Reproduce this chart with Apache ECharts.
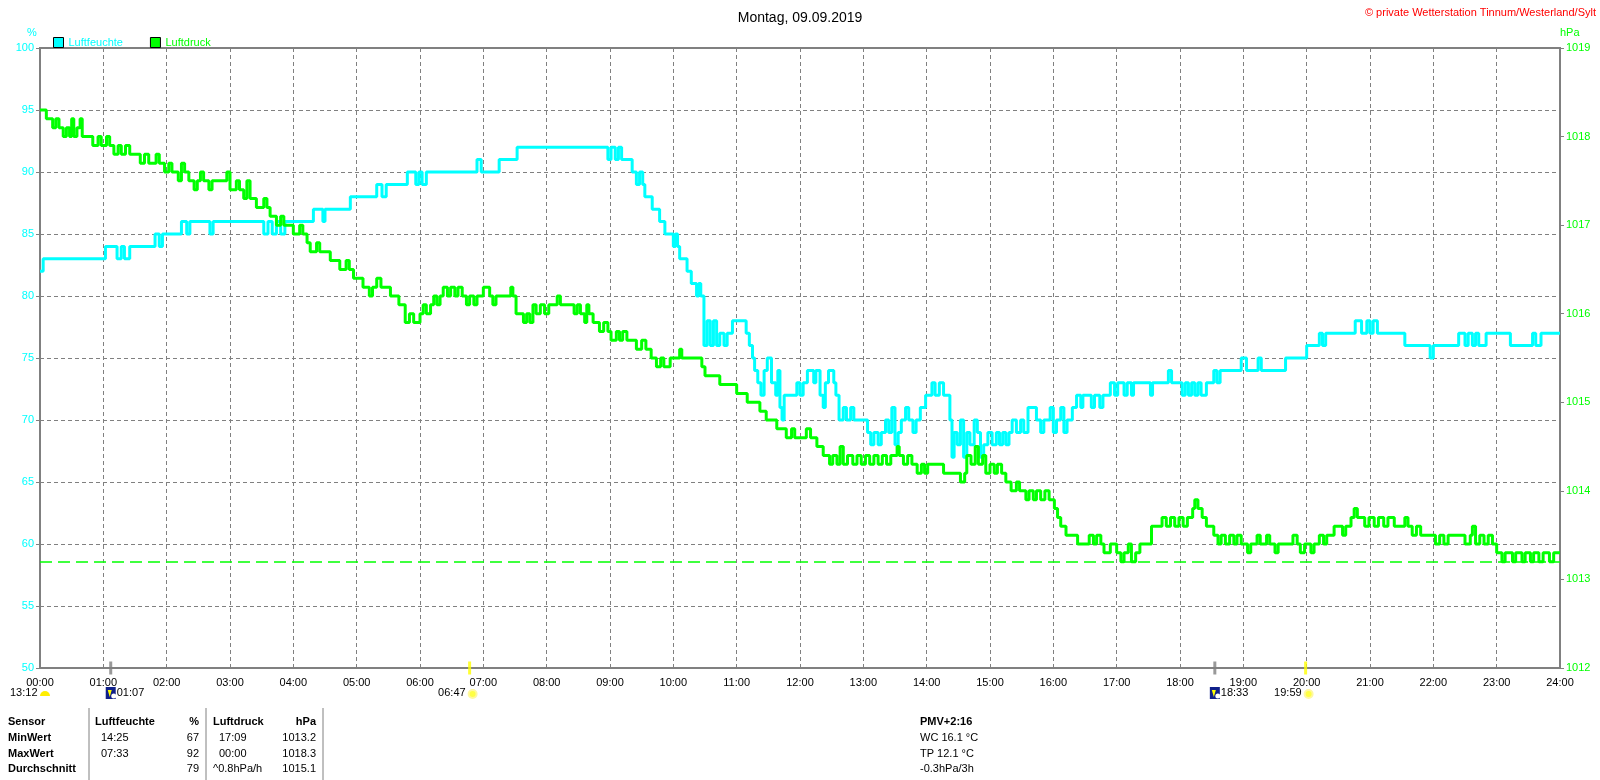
<!DOCTYPE html>
<html>
<head>
<meta charset="utf-8">
<title>Montag, 09.09.2019</title>
<script src="https://cdn.jsdelivr.net/npm/echarts/dist/echarts.min.js"></script>
<style>
  html, body { margin: 0; padding: 0; background: #fff; }
  #chart { width: 1600px; height: 780px; }
</style>
</head>
<body>
<div id="chart"></div>
<script>
// Luftfeuchte: minutes since midnight where the value changes, and the new value (%)
const humMin = [0, 3, 62, 73, 77, 80, 85, 109, 113, 116, 134, 139, 142, 161, 164, 212, 216, 220, 224, 228, 232, 259, 268, 270, 294, 319, 324, 328,
  348, 356, 359, 362, 366, 414, 418, 435, 452, 538, 541, 545, 548, 551, 561, 565, 568, 571, 573, 580, 587, 592, 600, 602, 604, 606, 613, 617,
  622, 624, 626, 629, 632, 635, 638, 641, 644, 648, 651, 656, 669, 672, 675, 677, 680, 683, 686, 689, 693, 697, 699, 701, 703, 705, 717, 720,
  723, 727, 733, 735, 739, 742, 744, 747, 752, 754, 757, 761, 764, 768, 771, 784, 787, 790, 794, 797, 801, 804, 807, 810, 813, 816, 820, 823,
  827, 830, 834, 839, 845, 848, 852, 856, 862, 864, 866, 869, 872, 875, 878, 881, 885, 888, 891, 894, 898, 902, 906, 909, 912, 915, 918, 921,
  925, 929, 932, 936, 944, 948, 951, 957, 960, 963, 967, 970, 973, 978, 982, 986, 988, 996, 999, 1004, 1007, 1014, 1018, 1021, 1027, 1030,
  1034, 1036, 1052, 1054, 1069, 1072, 1082, 1085, 1088, 1091, 1094, 1097, 1100, 1105, 1112, 1115, 1118, 1138, 1143, 1154, 1157, 1180, 1200,
  1212, 1215, 1218, 1246, 1252, 1257, 1260, 1263, 1267, 1293, 1317, 1320, 1344, 1350, 1353, 1357, 1360, 1363, 1370, 1393, 1414, 1417, 1422]
const humVal = [82, 83, 84, 83, 84, 83, 84, 85, 84, 85, 86, 85, 86, 85, 86, 85, 86, 85, 86, 85, 86, 87, 86, 87, 88, 89, 88, 89,
  90, 89, 90, 89, 90, 91, 90, 91, 92, 91, 92, 91, 92, 91, 90, 89, 90, 89, 88, 87, 86, 85, 84, 85, 84, 83, 82, 81,
  80, 81, 80, 76, 78, 76, 78, 76, 77, 76, 77, 78, 77, 76, 75, 74, 73, 72, 74, 75, 73, 72, 74, 71, 70, 72, 73, 72,
  73, 74, 73, 74, 72, 71, 73, 74, 73, 72, 70, 71, 70, 71, 70, 69, 68, 69, 68, 69, 70, 69, 71, 68, 69, 70, 71, 70,
  69, 70, 71, 72, 73, 72, 73, 72, 70, 67, 69, 68, 70, 67, 69, 68, 70, 69, 67, 68, 69, 68, 69, 68, 69, 68, 69, 70,
  69, 70, 69, 71, 70, 69, 70, 71, 69, 70, 71, 69, 70, 71, 72, 71, 72, 71, 72, 71, 72, 73, 72, 73, 72, 73,
  72, 73, 72, 73, 74, 73, 72, 73, 72, 73, 72, 73, 72, 73, 74, 73, 74, 75, 74, 75, 74, 75, 76,
  77, 76, 77, 78, 77, 78, 77, 78, 77, 76, 75, 76, 77, 76, 77, 76, 77, 76, 77, 76, 77, 76, 77]

// Luftdruck: minutes since midnight where the value changes, and the new value (hPa)
const presMin = [0, 6, 12, 15, 18, 22, 25, 28, 30, 32, 35, 38, 40, 50, 55, 58, 63, 66, 70, 74, 77, 81, 85, 95, 99, 103, 110, 113, 118, 122,
  125, 131, 134, 137, 141, 146, 149, 152, 155, 160, 163, 177, 180, 186, 189, 193, 196, 199, 205, 212, 215, 218, 224, 228, 231, 240, 246,
  249, 253, 256, 262, 265, 275, 284, 290, 293, 297, 306, 312, 315, 319, 323, 332, 340, 346, 350, 354, 360, 363, 366, 370, 373, 376, 379,
  382, 386, 389, 393, 396, 400, 404, 407, 411, 414, 420, 426, 429, 432, 446, 448, 451, 458, 461, 464, 467, 470, 474, 478, 482, 490, 493,
  506, 509, 512, 516, 518, 520, 524, 530, 534, 538, 541, 546, 549, 552, 556, 565, 570, 574, 579, 584, 588, 591, 597, 606, 608, 627, 630,
  644, 660, 670, 682, 688, 698, 707, 712, 715, 726, 730, 736, 742, 748, 751, 755, 758, 761, 765, 770, 774, 778, 782, 786, 790, 794, 798,
  802, 806, 812, 814, 818, 822, 826, 831, 835, 838, 841, 856, 872, 876, 878, 882, 886, 889, 893, 896, 900, 904, 907, 911, 915, 920, 925,
  928, 934, 937, 941, 944, 948, 952, 956, 961, 964, 967, 972, 983, 994, 998, 1001, 1005, 1008, 1014, 1020, 1024, 1027, 1031, 1034, 1038,
  1042, 1053, 1063, 1067, 1071, 1075, 1079, 1083, 1087, 1092, 1094, 1097, 1101, 1105, 1112, 1116, 1119, 1123, 1127, 1131, 1134, 1138,
  1144, 1147, 1153, 1156, 1162, 1165, 1170, 1173, 1187, 1191, 1194, 1198, 1204, 1207, 1212, 1216, 1219, 1226, 1234, 1237, 1242, 1245,
  1248, 1255, 1259, 1264, 1268, 1273, 1277, 1283, 1293, 1296, 1300, 1304, 1308, 1322, 1326, 1330, 1334, 1350, 1355, 1357, 1360, 1364,
  1368, 1372, 1376, 1380, 1385, 1388, 1395, 1398, 1404, 1407, 1412, 1415, 1420, 1424, 1430, 1434]
const presVal = [1018.3, 1018.2, 1018.1, 1018.2, 1018.1, 1018.0, 1018.1, 1018.0, 1018.2, 1018.0, 1018.1, 1018.2, 1018.0, 1017.9, 1018.0,
  1017.9, 1018.0, 1017.9, 1017.8, 1017.9, 1017.8, 1017.9, 1017.8, 1017.7, 1017.8, 1017.7, 1017.8, 1017.7, 1017.6, 1017.7,
  1017.6, 1017.5, 1017.7, 1017.6, 1017.5, 1017.4, 1017.5, 1017.6, 1017.5, 1017.4, 1017.5, 1017.6, 1017.4, 1017.5, 1017.4, 1017.3, 1017.5,
  1017.3, 1017.2, 1017.3, 1017.2, 1017.1, 1017.0, 1017.1, 1017.0, 1016.9, 1017.0,
  1016.9, 1016.8, 1016.7, 1016.8, 1016.7, 1016.6, 1016.5, 1016.6, 1016.5, 1016.4, 1016.3, 1016.2, 1016.3, 1016.4, 1016.3, 1016.2, 1016.1,
  1015.9, 1016.0, 1015.9, 1016.0, 1016.1, 1016.0, 1016.1, 1016.2, 1016.1, 1016.2,
  1016.3, 1016.2, 1016.3, 1016.2, 1016.3, 1016.2, 1016.1, 1016.2, 1016.1, 1016.2, 1016.3, 1016.2, 1016.1, 1016.2, 1016.3, 1016.2, 1016.0,
  1015.9, 1016.0, 1015.9, 1016.1, 1016.0, 1016.1, 1016.0, 1016.1, 1016.2, 1016.1,
  1016.0, 1016.1, 1016.0, 1015.9, 1016.1, 1016.0, 1015.9, 1015.8, 1015.9, 1015.8, 1015.7, 1015.8, 1015.7, 1015.8, 1015.7, 1015.6, 1015.7,
  1015.6, 1015.5, 1015.4, 1015.5, 1015.4, 1015.5, 1015.6, 1015.5, 1015.4, 1015.3,
  1015.2, 1015.1, 1015.0, 1014.9, 1014.8, 1014.7, 1014.6, 1014.7, 1014.6, 1014.7, 1014.6, 1014.5, 1014.4, 1014.3, 1014.4, 1014.3, 1014.5,
  1014.3, 1014.4, 1014.3, 1014.4, 1014.3, 1014.4, 1014.3, 1014.4, 1014.3, 1014.4,
  1014.3, 1014.4, 1014.5, 1014.4, 1014.3, 1014.4, 1014.3, 1014.2, 1014.3, 1014.2, 1014.3, 1014.2, 1014.1, 1014.2, 1014.4, 1014.3, 1014.5,
  1014.3, 1014.4, 1014.2, 1014.3, 1014.2, 1014.3, 1014.2, 1014.1, 1014.0, 1014.1,
  1014.0, 1013.9, 1014.0, 1013.9, 1014.0, 1013.9, 1014.0, 1013.9, 1013.8, 1013.7, 1013.6, 1013.5, 1013.4, 1013.5, 1013.4, 1013.5, 1013.4,
  1013.3, 1013.4, 1013.3, 1013.2, 1013.3, 1013.4, 1013.2, 1013.3,
  1013.4, 1013.6, 1013.7, 1013.6, 1013.7, 1013.6, 1013.7, 1013.6, 1013.7, 1013.8, 1013.9, 1013.8, 1013.7, 1013.6, 1013.5, 1013.4, 1013.5,
  1013.4, 1013.5, 1013.4, 1013.5, 1013.4,
  1013.3, 1013.4, 1013.5, 1013.4, 1013.5, 1013.4, 1013.3, 1013.4, 1013.5, 1013.4, 1013.3, 1013.4, 1013.3, 1013.4, 1013.5, 1013.4, 1013.5,
  1013.6, 1013.5, 1013.6, 1013.7, 1013.8,
  1013.7, 1013.6, 1013.7, 1013.6, 1013.7, 1013.6, 1013.7, 1013.6, 1013.7, 1013.6, 1013.5, 1013.6, 1013.5, 1013.4, 1013.5, 1013.4, 1013.5,
  1013.4, 1013.5, 1013.6, 1013.4, 1013.5,
  1013.4, 1013.5, 1013.4, 1013.3, 1013.2, 1013.3, 1013.2, 1013.3, 1013.2, 1013.3, 1013.2, 1013.3, 1013.2, 1013.3, 1013.2, 1013.3]

// Sonne / Mond Ereignisse (minutes since midnight)
const moonEvents = [67, 1113]     // 01:07, 18:33
const sunEvents = [407, 1199]     // 06:47, 19:59
const moonSetLabel = '13:12'

// statistics table
const tableHead = ['Sensor', 'Luftfeuchte', '%', 'Luftdruck', 'hPa']
const tableRows = [
  ['MinWert', '14:25', '67', '17:09', '1013.2'],
  ['MaxWert', '07:33', '92', '00:00', '1018.3'],
  ['Durchschnitt', '', '79', '^0.8hPa/h', '1015.1']
]
const pmvLines = ['PMV+2:16', 'WC 16.1 °C', 'TP 12.1 °C', '-0.3hPa/3h']
const presMinLine = 1013.2

const FONT = '"Liberation Sans", Arial, sans-serif'
const CYAN = '#00FFFF'
const GREEN = '#00FF00'
const GRAY = '#808080'

const pad = n => (n < 10 ? '0' : '') + n
const hhmm = m => pad(Math.floor(m / 60)) + ':' + pad(m % 60)
const steps = (mins, vals) => mins.map((m, i) => [m, vals[i]]).concat([[1440, vals[vals.length - 1]]])

const chart = echarts.init(document.getElementById('chart'))

const option = {
  animation: false,
  backgroundColor: '#fff',
  textStyle: { fontFamily: FONT },
  title: {
    text: 'Montag, 09.09.2019',
    left: 'center',
    top: 6,
    textStyle: { fontSize: 14, fontWeight: 'normal', color: '#000', fontFamily: FONT }
  },
  legend: {
    left: 48,
    top: 32,
    icon: 'rect',
    itemWidth: 10,
    itemHeight: 10,
    itemGap: 27,
    textStyle: { fontSize: 11, fontFamily: FONT },
    data: [
      { name: 'Luftfeuchte', textStyle: { color: CYAN }, itemStyle: { color: CYAN, borderColor: '#000', borderWidth: 1 } },
      { name: 'Luftdruck', textStyle: { color: GREEN }, itemStyle: { color: GREEN, borderColor: '#000', borderWidth: 1 } }
    ]
  },
  grid: { left: 40, right: 40, top: 48, bottom: 112, show: true, borderColor: GRAY, borderWidth: 2 },
  xAxis: {
    type: 'value',
    min: 0,
    max: 1440,
    interval: 60,
    axisLine: { lineStyle: { color: GRAY, width: 2 } },
    axisTick: { show: false },
    axisLabel: { formatter: v => hhmm(v), color: '#000', fontSize: 11, margin: 9, fontFamily: FONT },
    splitLine: { lineStyle: { color: GRAY, type: [4, 3], width: 1 } }
  },
  yAxis: [
    {
      type: 'value',
      min: 50,
      max: 100,
      interval: 5,
      position: 'left',
      axisLine: { show: true, lineStyle: { color: GRAY, width: 2 } },
      axisTick: { show: true, length: 4, lineStyle: { color: GRAY } },
      axisLabel: { color: CYAN, fontSize: 11, margin: 6, fontFamily: FONT },
      splitLine: { lineStyle: { color: GRAY, type: [4, 3], width: 1 } }
    },
    {
      type: 'value',
      min: 1012,
      max: 1019,
      interval: 1,
      position: 'right',
      axisLine: { show: true, lineStyle: { color: GRAY, width: 2 } },
      axisTick: { show: true, length: 4, lineStyle: { color: GRAY } },
      axisLabel: { color: GREEN, fontSize: 11, margin: 6, fontFamily: FONT, formatter: v => String(v) },
      splitLine: { show: false }
    }
  ],
  series: [
    {
      name: 'Luftfeuchte',
      type: 'line',
      step: 'end',
      yAxisIndex: 0,
      showSymbol: false,
      lineStyle: { color: CYAN, width: 3 },
      itemStyle: { color: CYAN },
      data: steps(humMin, humVal)
    },
    {
      name: 'Luftdruck',
      type: 'line',
      step: 'end',
      yAxisIndex: 1,
      showSymbol: false,
      lineStyle: { color: GREEN, width: 3 },
      itemStyle: { color: GREEN },
      data: steps(presMin, presVal),
      markLine: {
        silent: true,
        symbol: 'none',
        label: { show: false },
        lineStyle: { color: GREEN, type: [12, 6], width: 1.5 },
        data: [{ yAxis: presMinLine }]
      }
    },
    {
      name: 'events',
      type: 'scatter',
      yAxisIndex: 0,
      clip: false,
      silent: true,
      symbol: 'rect',
      symbolSize: [3, 13],
      z: 5,
      data: moonEvents.map(m => ({ value: [m, 50], itemStyle: { color: GRAY } }))
        .concat(sunEvents.map(m => ({ value: [m, 50], itemStyle: { color: '#FFFF00' } })))
    }
  ]
}

chart.setOption(option)

// annotations: axis units, copyright, event labels, statistics table
const txt = (x, y, text, extra) => ({
  type: 'text', x: x, y: y,
  style: Object.assign({ text: text, fontSize: 11, fontFamily: FONT, fill: '#000', textVerticalAlign: 'middle' }, extra || {})
})

const g = []
g.push(txt(27, 33, '%', { fill: CYAN }))
g.push(txt(1560, 33, 'hPa', { fill: GREEN }))
g.push(txt(1596, 13, '© private Wetterstation Tinnum/Westerland/Sylt', { fill: '#FF0000', textAlign: 'right' }))

const evY = 693
const px = m => chart.convertToPixel({ xAxisIndex: 0 }, m)
// moon set at left edge
g.push(txt(10, evY, moonSetLabel))
g.push({ type: 'sector', shape: { cx: 45, cy: evY + 3, r: 5, startAngle: Math.PI, endAngle: 2 * Math.PI }, style: { fill: '#FFEE00' } })
moonEvents.forEach(m => {
  const x = px(m)
  g.push({ type: 'rect', shape: { x: x - 5, y: evY - 6, width: 10, height: 12 }, style: { fill: '#10208a' } })
  g.push({ type: 'polygon', shape: { points: [[x - 3, evY - 3], [x + 1, evY - 3], [x - 1, evY + 4]] }, style: { fill: '#FFFF00' } })
  g.push({ type: 'circle', shape: { cx: x + 3, cy: evY + 3, r: 2.5 }, style: { fill: '#fff' } })
  g.push(txt(x + 6, evY, hhmm(m)))
})
sunEvents.forEach(m => {
  const x = px(m)
  g.push({ type: 'circle', shape: { cx: x + 3, cy: evY + 1, r: 4 }, style: { fill: '#FFFF44', stroke: '#FFF8A0', lineWidth: 2 } })
  g.push(txt(x - 4, evY, hhmm(m), { textAlign: 'right' }))
})

// table
const colX = [8, 95, 199, 213, 316]
const colAlign = ['left', 'left', 'right', 'left', 'right']
const rowY = [722, 738, 754, 769]
tableHead.forEach((t, i) => g.push(txt(colX[i], rowY[0], t, { fontWeight: 'bold', textAlign: colAlign[i] })))
tableRows.forEach((row, r) => {
  row.forEach((t, i) => {
    const x = (i === 1 || i === 3) ? colX[i] + 6 : colX[i]
    const extra = { textAlign: colAlign[i] }
    if (i === 0) extra.fontWeight = 'bold'
    if (r === 2 && i === 3) { g.push(txt(colX[i], rowY[r + 1], t, extra)); return }
    g.push(txt(x, rowY[r + 1], t, extra))
  })
})
;[89, 206, 323].forEach(x => {
  g.push({ type: 'line', shape: { x1: x, y1: 708, x2: x, y2: 780 }, style: { stroke: GRAY, lineWidth: 1 } })
})
pmvLines.forEach((t, i) => g.push(txt(920, rowY[i], t, i === 0 ? { fontWeight: 'bold' } : {})))

chart.setOption({ graphic: g })
</script>
</body>
</html>
